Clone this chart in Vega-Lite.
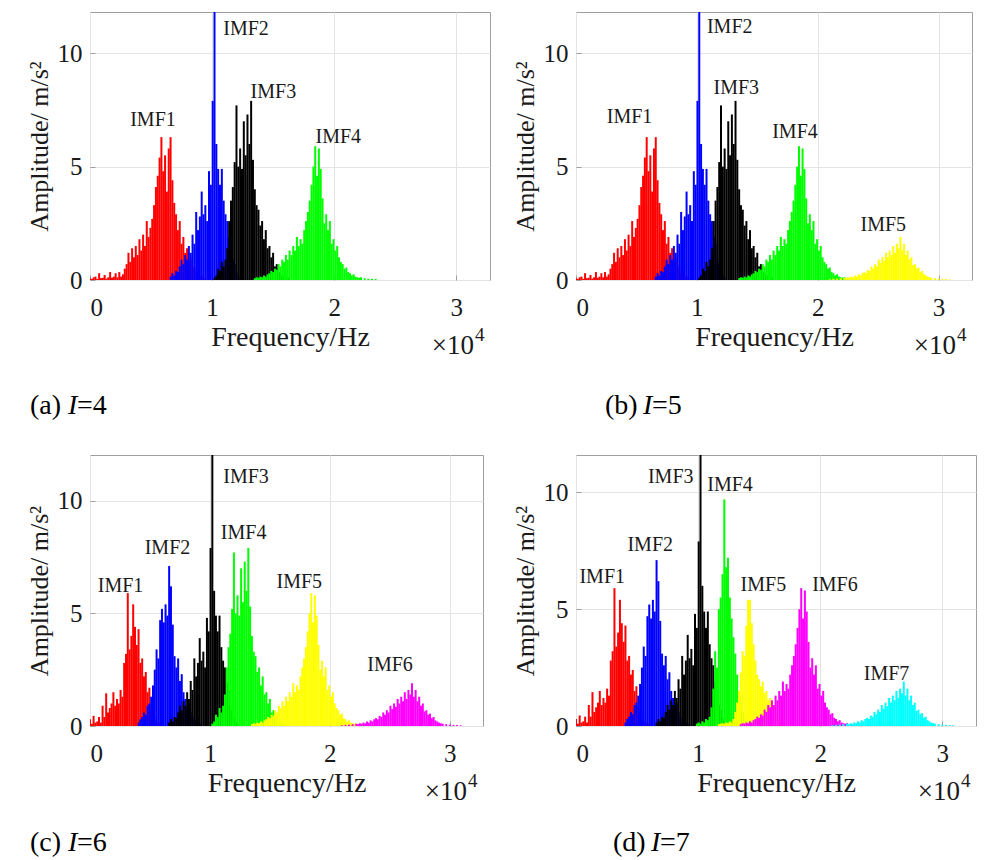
{
"$schema":"https://vega.github.io/schema/vega-lite/v6.json",
"background":"white",
"padding":{"left":25,"top":11,"right":5,"bottom":5},
"config":{
 "font":"Liberation Serif",
 "view":{"stroke":"#9e9e9e","strokeWidth":1},
 "axis":{"labelFont":"Liberation Serif","labelFontSize":25,"labelColor":"#1a1a1a","titleFont":"Liberation Serif","titleFontSize":26,"titleFontWeight":"normal","titleColor":"#1a1a1a","domain":false,"grid":true,"gridColor":"#e4e4e4","ticks":true,"tickSize":-5,"tickColor":"#9e9e9e"},
 "axisX":{"labelPadding":20,"titlePadding":3,"titleFontSize":28},
 "axisY":{"labelPadding":13,"titlePadding":5}
},
"datasets":{
"R4":[{"f":0,"a":0.08},{"f":150,"a":0.05},{"f":300,"a":0.12},{"f":450,"a":0.15},{"f":600,"a":0.05},{"f":750,"a":0.3},{"f":900,"a":0.08},{"f":1050,"a":0.1},{"f":1200,"a":0.22},{"f":1350,"a":0.06},{"f":1500,"a":0.12},{"f":1650,"a":0.35},{"f":1800,"a":0.1},{"f":1950,"a":0.15},{"f":2100,"a":0.3},{"f":2250,"a":0.12},{"f":2400,"a":0.35},{"f":2550,"a":0.15},{"f":2700,"a":0.25},{"f":2850,"a":0.5},{"f":3000,"a":0.7},{"f":3150,"a":1.2},{"f":3300,"a":0.8},{"f":3450,"a":1.4},{"f":3600,"a":1.0},{"f":3750,"a":1.5},{"f":3900,"a":1.1},{"f":4050,"a":1.8},{"f":4200,"a":1.3},{"f":4350,"a":2.0},{"f":4500,"a":1.5},{"f":4650,"a":2.6},{"f":4800,"a":1.9},{"f":4950,"a":2.3},{"f":5100,"a":2.7},{"f":5250,"a":3.3},{"f":5400,"a":4.1},{"f":5550,"a":4.6},{"f":5700,"a":5.4},{"f":5850,"a":6.3},{"f":6000,"a":4.8},{"f":6150,"a":5.5},{"f":6300,"a":3.9},{"f":6450,"a":5.8},{"f":6600,"a":6.3},{"f":6750,"a":4.4},{"f":6900,"a":3.4},{"f":7050,"a":2.9},{"f":7200,"a":2.2},{"f":7350,"a":2.6},{"f":7500,"a":1.6},{"f":7650,"a":1.9},{"f":7800,"a":1.2},{"f":7950,"a":1.4},{"f":8100,"a":0.8},{"f":8250,"a":1.0},{"f":8400,"a":0.5},{"f":8550,"a":0.6},{"f":8700,"a":0.3},{"f":8850,"a":0.35},{"f":9000,"a":0.15},{"f":9150,"a":0.2},{"f":9300,"a":0.08},{"f":9450,"a":0.05}],
"B4":[{"f":6600,"a":0.15},{"f":6750,"a":0.3},{"f":6900,"a":0.2},{"f":7050,"a":0.4},{"f":7200,"a":0.35},{"f":7350,"a":0.6},{"f":7500,"a":0.9},{"f":7650,"a":0.7},{"f":7800,"a":1.1},{"f":7950,"a":0.9},{"f":8100,"a":1.5},{"f":8250,"a":1.2},{"f":8400,"a":2.0},{"f":8550,"a":1.6},{"f":8700,"a":3.0},{"f":8850,"a":2.2},{"f":9000,"a":2.8},{"f":9150,"a":3.9},{"f":9300,"a":2.9},{"f":9450,"a":3.3},{"f":9600,"a":2.6},{"f":9750,"a":4.8},{"f":9900,"a":4.2},{"f":10050,"a":7.9},{"f":10200,"a":13},{"f":10350,"a":6.0},{"f":10500,"a":4.9},{"f":10650,"a":4.2},{"f":10800,"a":4.9},{"f":10950,"a":3.5},{"f":11100,"a":2.9},{"f":11250,"a":2.6},{"f":11400,"a":1.9},{"f":11550,"a":1.6},{"f":11700,"a":0.9},{"f":11850,"a":0.7},{"f":12000,"a":0.35},{"f":12150,"a":0.2},{"f":12300,"a":0.1}],
"K4":[{"f":10200,"a":0.1},{"f":10350,"a":0.2},{"f":10500,"a":0.5},{"f":10650,"a":0.4},{"f":10800,"a":0.8},{"f":10950,"a":0.6},{"f":11100,"a":0.9},{"f":11250,"a":1.4},{"f":11400,"a":2.6},{"f":11550,"a":3.5},{"f":11700,"a":4.1},{"f":11850,"a":5.2},{"f":12000,"a":7.7},{"f":12150,"a":5.0},{"f":12300,"a":5.8},{"f":12450,"a":4.9},{"f":12600,"a":7.0},{"f":12750,"a":5.5},{"f":12900,"a":7.3},{"f":13050,"a":6.0},{"f":13200,"a":7.9},{"f":13350,"a":5.3},{"f":13500,"a":4.0},{"f":13650,"a":3.3},{"f":13800,"a":3.1},{"f":13950,"a":2.4},{"f":14100,"a":2.6},{"f":14250,"a":1.8},{"f":14400,"a":2.2},{"f":14550,"a":1.4},{"f":14700,"a":1.5},{"f":14850,"a":1.0},{"f":15000,"a":1.2},{"f":15150,"a":0.6},{"f":15300,"a":0.7},{"f":15450,"a":0.35},{"f":15600,"a":0.3},{"f":15750,"a":0.15},{"f":15900,"a":0.2},{"f":16050,"a":0.08},{"f":16200,"a":0.12}],
"G4":[{"f":13500,"a":0.08},{"f":13650,"a":0.12},{"f":13800,"a":0.1},{"f":13950,"a":0.15},{"f":14100,"a":0.12},{"f":14250,"a":0.2},{"f":14400,"a":0.15},{"f":14550,"a":0.25},{"f":14700,"a":0.3},{"f":14850,"a":0.4},{"f":15000,"a":0.35},{"f":15150,"a":0.5},{"f":15300,"a":0.45},{"f":15450,"a":0.7},{"f":15600,"a":0.6},{"f":15750,"a":0.9},{"f":15900,"a":0.8},{"f":16050,"a":1.1},{"f":16200,"a":0.9},{"f":16350,"a":1.3},{"f":16500,"a":1.1},{"f":16650,"a":1.5},{"f":16800,"a":1.3},{"f":16950,"a":1.9},{"f":17100,"a":1.5},{"f":17250,"a":1.8},{"f":17400,"a":1.6},{"f":17550,"a":2.2},{"f":17700,"a":2.6},{"f":17850,"a":3.0},{"f":18000,"a":3.5},{"f":18150,"a":4.2},{"f":18300,"a":5.0},{"f":18450,"a":5.9},{"f":18600,"a":4.6},{"f":18750,"a":5.8},{"f":18900,"a":4.9},{"f":19050,"a":3.6},{"f":19200,"a":2.5},{"f":19350,"a":2.9},{"f":19500,"a":2.2},{"f":19650,"a":2.6},{"f":19800,"a":1.6},{"f":19950,"a":1.8},{"f":20100,"a":1.3},{"f":20250,"a":1.5},{"f":20400,"a":1.0},{"f":20550,"a":0.8},{"f":20700,"a":0.7},{"f":20850,"a":0.5},{"f":21000,"a":0.55},{"f":21150,"a":0.35},{"f":21300,"a":0.3},{"f":21450,"a":0.2},{"f":21600,"a":0.25},{"f":21750,"a":0.15},{"f":21900,"a":0.12},{"f":22050,"a":0.1},{"f":22200,"a":0.12},{"f":22500,"a":0.08},{"f":22800,"a":0.06},{"f":23100,"a":0.05},{"f":23400,"a":0.05}],
"Y5":[{"f":21000,"a":0.03},{"f":21300,"a":0.05},{"f":21600,"a":0.06},{"f":21900,"a":0.08},{"f":22200,"a":0.1},{"f":22350,"a":0.08},{"f":22500,"a":0.12},{"f":22650,"a":0.1},{"f":22800,"a":0.15},{"f":22950,"a":0.12},{"f":23100,"a":0.2},{"f":23250,"a":0.15},{"f":23400,"a":0.25},{"f":23550,"a":0.2},{"f":23700,"a":0.3},{"f":23850,"a":0.35},{"f":24000,"a":0.3},{"f":24150,"a":0.45},{"f":24300,"a":0.4},{"f":24450,"a":0.6},{"f":24600,"a":0.5},{"f":24750,"a":0.7},{"f":24900,"a":0.6},{"f":25050,"a":0.9},{"f":25200,"a":0.75},{"f":25350,"a":1.0},{"f":25500,"a":0.85},{"f":25650,"a":1.2},{"f":25800,"a":1.0},{"f":25950,"a":1.3},{"f":26100,"a":1.1},{"f":26250,"a":1.5},{"f":26400,"a":1.2},{"f":26550,"a":1.6},{"f":26700,"a":1.4},{"f":26850,"a":1.9},{"f":27000,"a":1.3},{"f":27150,"a":1.6},{"f":27300,"a":1.1},{"f":27450,"a":1.3},{"f":27600,"a":0.9},{"f":27750,"a":1.0},{"f":27900,"a":0.65},{"f":28050,"a":0.7},{"f":28200,"a":0.5},{"f":28350,"a":0.55},{"f":28500,"a":0.35},{"f":28650,"a":0.4},{"f":28800,"a":0.25},{"f":28950,"a":0.2},{"f":29100,"a":0.15},{"f":29250,"a":0.12},{"f":29400,"a":0.1},{"f":29700,"a":0.08},{"f":30000,"a":0.06},{"f":30300,"a":0.05},{"f":30600,"a":0.04},{"f":30900,"a":0.03}],
"R6":[{"f":0,"a":0.3},{"f":150,"a":0.1},{"f":300,"a":0.45},{"f":450,"a":0.15},{"f":600,"a":0.2},{"f":750,"a":0.4},{"f":900,"a":0.15},{"f":1050,"a":0.9},{"f":1200,"a":0.4},{"f":1350,"a":1.45},{"f":1500,"a":0.6},{"f":1650,"a":0.8},{"f":1800,"a":1.0},{"f":1950,"a":1.5},{"f":2100,"a":0.9},{"f":2250,"a":1.2},{"f":2400,"a":1.0},{"f":2550,"a":1.6},{"f":2700,"a":1.3},{"f":2850,"a":2.8},{"f":3000,"a":3.2},{"f":3150,"a":5.9},{"f":3300,"a":3.4},{"f":3450,"a":4.0},{"f":3600,"a":5.4},{"f":3750,"a":4.4},{"f":3900,"a":3.6},{"f":4050,"a":4.3},{"f":4200,"a":2.8},{"f":4350,"a":3.0},{"f":4500,"a":2.2},{"f":4650,"a":2.4},{"f":4800,"a":1.5},{"f":4950,"a":1.7},{"f":5100,"a":0.8},{"f":5250,"a":0.6},{"f":5400,"a":0.3},{"f":5550,"a":0.2},{"f":5700,"a":0.15},{"f":5850,"a":0.1},{"f":6000,"a":0.08}],
"B6":[{"f":4050,"a":0.15},{"f":4200,"a":0.3},{"f":4350,"a":0.4},{"f":4500,"a":0.6},{"f":4650,"a":0.5},{"f":4800,"a":0.9},{"f":4950,"a":1.0},{"f":5100,"a":1.3},{"f":5250,"a":1.8},{"f":5400,"a":2.5},{"f":5550,"a":3.4},{"f":5700,"a":3.0},{"f":5850,"a":4.7},{"f":6000,"a":5.2},{"f":6150,"a":4.6},{"f":6300,"a":5.4},{"f":6450,"a":4.9},{"f":6600,"a":7.1},{"f":6750,"a":6.2},{"f":6900,"a":4.5},{"f":7050,"a":3.1},{"f":7200,"a":2.6},{"f":7350,"a":3.0},{"f":7500,"a":2.0},{"f":7650,"a":2.3},{"f":7800,"a":1.5},{"f":7950,"a":1.2},{"f":8100,"a":0.9},{"f":8250,"a":1.0},{"f":8400,"a":0.6},{"f":8550,"a":0.4},{"f":8700,"a":0.3},{"f":8850,"a":0.2},{"f":9000,"a":0.15},{"f":9150,"a":0.1}],
"G7":[{"f":9900,"a":0.1},{"f":10050,"a":0.15},{"f":10200,"a":0.1},{"f":10350,"a":0.2},{"f":10500,"a":0.15},{"f":10650,"a":0.3},{"f":10800,"a":0.25},{"f":10950,"a":0.4},{"f":11100,"a":0.8},{"f":11250,"a":1.6},{"f":11400,"a":3.2},{"f":11550,"a":2.5},{"f":11700,"a":5.0},{"f":11850,"a":5.5},{"f":12000,"a":6.5},{"f":12150,"a":9.7},{"f":12300,"a":6.8},{"f":12450,"a":7.2},{"f":12600,"a":5.5},{"f":12750,"a":4.6},{"f":12900,"a":3.8},{"f":13050,"a":3.1},{"f":13200,"a":2.2},{"f":13350,"a":1.5},{"f":13500,"a":0.9},{"f":13650,"a":0.6},{"f":13800,"a":0.35},{"f":13950,"a":0.25},{"f":14100,"a":0.15}],
"Y7":[{"f":11700,"a":0.08},{"f":11850,"a":0.1},{"f":12000,"a":0.12},{"f":12150,"a":0.1},{"f":12300,"a":0.15},{"f":12450,"a":0.12},{"f":12600,"a":0.2},{"f":12750,"a":0.15},{"f":12900,"a":0.3},{"f":13050,"a":0.6},{"f":13200,"a":1.0},{"f":13350,"a":1.5},{"f":13500,"a":2.3},{"f":13650,"a":3.2},{"f":13800,"a":3.0},{"f":13950,"a":4.3},{"f":14100,"a":5.4},{"f":14250,"a":5.4},{"f":14400,"a":4.4},{"f":14550,"a":3.5},{"f":14700,"a":2.8},{"f":14850,"a":2.2},{"f":15000,"a":2.0},{"f":15150,"a":1.7},{"f":15300,"a":1.9},{"f":15450,"a":1.4},{"f":15600,"a":1.5},{"f":15750,"a":1.1},{"f":15900,"a":1.2},{"f":16050,"a":0.9},{"f":16200,"a":0.9},{"f":16350,"a":0.6},{"f":16500,"a":0.5},{"f":16650,"a":0.35},{"f":16800,"a":0.25},{"f":16950,"a":0.15},{"f":17100,"a":0.1}],
"labA":[{"t":"IMF1","f":5160,"a":6.8},{"t":"IMF2","f":12780,"a":10.8},{"t":"IMF3","f":15020,"a":8.04},{"t":"IMF4","f":20340,"a":6.06}],
"labB":[{"t":"IMF1","f":4430,"a":6.94},{"t":"IMF2","f":12720,"a":10.91},{"t":"IMF3","f":13260,"a":8.22},{"t":"IMF4","f":18120,"a":6.28},{"t":"IMF5","f":25430,"a":2.16}],
"labC":[{"t":"IMF1","f":2550,"a":5.96},{"t":"IMF2","f":6460,"a":7.63},{"t":"IMF3","f":13010,"a":10.77},{"t":"IMF4","f":12810,"a":8.29},{"t":"IMF5","f":17450,"a":6.11},{"t":"IMF6","f":25020,"a":2.45}],
"labD":[{"t":"IMF1","f":2150,"a":6.1},{"t":"IMF2","f":6080,"a":7.5},{"t":"IMF3","f":7760,"a":10.42},{"t":"IMF4","f":12620,"a":10.04},{"t":"IMF5","f":15350,"a":5.76},{"t":"IMF6","f":21210,"a":5.76},{"t":"IMF7","f":25440,"a":1.97}],
"capA":[{"p":"(a)","i":"I","n":"=4"}],
"capB":[{"p":"(b)","i":"I","n":"=5"}],
"capC":[{"p":"(c)","i":"I","n":"=6"}],
"capD":[{"p":"(d)","i":"I","n":"=7"}]
},
"columns":2,
"spacing":{"row":33,"column":20},
"concat":[
{"width":400,"height":268,
 "layer":[
  {"data":{"name":"R4"},"mark":{"type":"rule","color":"#ff0000","strokeWidth":2,"clip":true},"encoding":{"x":{"field":"f","type":"quantitative","scale":{"domain":[0,32768],"nice":false,"zero":false},"axis":{"values":[0,10000,20000,30000],"labelExpr":"datum.value / 10000","title":"Frequency/Hz"}},"y":{"field":"a","type":"quantitative","scale":{"domain":[0,11.82],"nice":false},"axis":{"values":[0,5,10],"title":"Amplitude/ m/s²"}},"y2":{"datum":0}}},
  {"data":{"name":"B4"},"mark":{"type":"rule","color":"#0000ff","strokeWidth":2,"clip":true},"encoding":{"x":{"field":"f","type":"quantitative","scale":{"domain":[0,32768],"nice":false,"zero":false}},"y":{"field":"a","type":"quantitative","scale":{"domain":[0,11.82],"nice":false}},"y2":{"datum":0}}},
  {"data":{"name":"K4"},"mark":{"type":"rule","color":"#000000","strokeWidth":2,"clip":true},"encoding":{"x":{"field":"f","type":"quantitative","scale":{"domain":[0,32768],"nice":false,"zero":false}},"y":{"field":"a","type":"quantitative","scale":{"domain":[0,11.82],"nice":false}},"y2":{"datum":0}}},
  {"data":{"name":"G4"},"mark":{"type":"rule","color":"#00ff00","strokeWidth":2,"clip":true},"encoding":{"x":{"field":"f","type":"quantitative","scale":{"domain":[0,32768],"nice":false,"zero":false}},"y":{"field":"a","type":"quantitative","scale":{"domain":[0,11.82],"nice":false}},"y2":{"datum":0}}},
  {"data":{"name":"labA"},"mark":{"type":"text","font":"Liberation Serif","fontSize":20,"color":"#1a1a1a","align":"center","baseline":"alphabetic"},"encoding":{"x":{"field":"f","type":"quantitative","scale":{"domain":[0,32768],"nice":false,"zero":false}},"y":{"field":"a","type":"quantitative","scale":{"domain":[0,11.82],"nice":false}},"text":{"field":"t"}}},
  {"data":{"name":"capA"},"mark":{"type":"text","font":"Liberation Serif","fontSize":28,"color":"#000000","align":"left","baseline":"alphabetic"},"encoding":{"x":{"datum":-4915,"type":"quantitative","scale":{"domain":[0,32768],"nice":false,"zero":false}},"y":{"datum":-5.91,"type":"quantitative","scale":{"domain":[0,11.82],"nice":false}},"text":{"field":"p"}}},
  {"data":{"name":"capA"},"mark":{"type":"text","font":"Liberation Serif","fontSize":28,"fontStyle":"italic","color":"#000000","align":"left","baseline":"alphabetic","dx":38},"encoding":{"x":{"datum":-4915,"type":"quantitative","scale":{"domain":[0,32768],"nice":false,"zero":false}},"y":{"datum":-5.91,"type":"quantitative","scale":{"domain":[0,11.82],"nice":false}},"text":{"field":"i"}}},
  {"data":{"name":"capA"},"mark":{"type":"text","font":"Liberation Serif","fontSize":28,"color":"#000000","align":"left","baseline":"alphabetic","dx":47},"encoding":{"x":{"datum":-4915,"type":"quantitative","scale":{"domain":[0,32768],"nice":false,"zero":false}},"y":{"datum":-5.91,"type":"quantitative","scale":{"domain":[0,11.82],"nice":false}},"text":{"field":"n"}}},
  {"data":{"name":"capA"},"mark":{"type":"text","font":"Liberation Serif","fontSize":27,"color":"#1a1a1a","align":"right","baseline":"alphabetic","dx":-16,"text":"×10"},"encoding":{"x":{"datum":32768,"type":"quantitative","scale":{"domain":[0,32768],"nice":false,"zero":false}},"y":{"datum":-3.28,"type":"quantitative","scale":{"domain":[0,11.82],"nice":false}}}},
  {"data":{"name":"capA"},"mark":{"type":"text","font":"Liberation Serif","fontSize":19,"color":"#1a1a1a","align":"left","baseline":"alphabetic","dx":-15,"dy":-13,"text":"4"},"encoding":{"x":{"datum":32768,"type":"quantitative","scale":{"domain":[0,32768],"nice":false,"zero":false}},"y":{"datum":-3.28,"type":"quantitative","scale":{"domain":[0,11.82],"nice":false}}}}
 ]},
{"width":396,"height":268,
 "layer":[
  {"data":{"name":"R4"},"mark":{"type":"rule","color":"#ff0000","strokeWidth":2,"clip":true},"encoding":{"x":{"field":"f","type":"quantitative","scale":{"domain":[0,32768],"nice":false,"zero":false},"axis":{"values":[0,10000,20000,30000],"labelExpr":"datum.value / 10000","title":"Frequency/Hz"}},"y":{"field":"a","type":"quantitative","scale":{"domain":[0,11.82],"nice":false},"axis":{"values":[0,5,10],"title":"Amplitude/ m/s²"}},"y2":{"datum":0}}},
  {"data":{"name":"B4"},"mark":{"type":"rule","color":"#0000ff","strokeWidth":2,"clip":true},"encoding":{"x":{"field":"f","type":"quantitative","scale":{"domain":[0,32768],"nice":false,"zero":false}},"y":{"field":"a","type":"quantitative","scale":{"domain":[0,11.82],"nice":false}},"y2":{"datum":0}}},
  {"data":{"name":"K4"},"mark":{"type":"rule","color":"#000000","strokeWidth":2,"clip":true},"encoding":{"x":{"field":"f","type":"quantitative","scale":{"domain":[0,32768],"nice":false,"zero":false}},"y":{"field":"a","type":"quantitative","scale":{"domain":[0,11.82],"nice":false}},"y2":{"datum":0}}},
  {"data":{"name":"G4"},"mark":{"type":"rule","color":"#00ff00","strokeWidth":2,"clip":true},"encoding":{"x":{"field":"f","type":"quantitative","scale":{"domain":[0,32768],"nice":false,"zero":false}},"y":{"field":"a","type":"quantitative","scale":{"domain":[0,11.82],"nice":false}},"y2":{"datum":0}}},
  {"data":{"name":"Y5"},"mark":{"type":"rule","color":"#ffff00","strokeWidth":2,"clip":true},"encoding":{"x":{"field":"f","type":"quantitative","scale":{"domain":[0,32768],"nice":false,"zero":false}},"y":{"field":"a","type":"quantitative","scale":{"domain":[0,11.82],"nice":false}},"y2":{"datum":0}}},
  {"data":{"name":"labB"},"mark":{"type":"text","font":"Liberation Serif","fontSize":20,"color":"#1a1a1a","align":"center","baseline":"alphabetic"},"encoding":{"x":{"field":"f","type":"quantitative","scale":{"domain":[0,32768],"nice":false,"zero":false}},"y":{"field":"a","type":"quantitative","scale":{"domain":[0,11.82],"nice":false}},"text":{"field":"t"}}},
  {"data":{"name":"capB"},"mark":{"type":"text","font":"Liberation Serif","fontSize":28,"color":"#000000","align":"left","baseline":"alphabetic"},"encoding":{"x":{"datum":2400,"type":"quantitative","scale":{"domain":[0,32768],"nice":false,"zero":false}},"y":{"datum":-5.91,"type":"quantitative","scale":{"domain":[0,11.82],"nice":false}},"text":{"field":"p"}}},
  {"data":{"name":"capB"},"mark":{"type":"text","font":"Liberation Serif","fontSize":28,"fontStyle":"italic","color":"#000000","align":"left","baseline":"alphabetic","dx":38},"encoding":{"x":{"datum":2400,"type":"quantitative","scale":{"domain":[0,32768],"nice":false,"zero":false}},"y":{"datum":-5.91,"type":"quantitative","scale":{"domain":[0,11.82],"nice":false}},"text":{"field":"i"}}},
  {"data":{"name":"capB"},"mark":{"type":"text","font":"Liberation Serif","fontSize":28,"color":"#000000","align":"left","baseline":"alphabetic","dx":47},"encoding":{"x":{"datum":2400,"type":"quantitative","scale":{"domain":[0,32768],"nice":false,"zero":false}},"y":{"datum":-5.91,"type":"quantitative","scale":{"domain":[0,11.82],"nice":false}},"text":{"field":"n"}}},
  {"data":{"name":"capB"},"mark":{"type":"text","font":"Liberation Serif","fontSize":27,"color":"#1a1a1a","align":"right","baseline":"alphabetic","dx":-16,"text":"×10"},"encoding":{"x":{"datum":32768,"type":"quantitative","scale":{"domain":[0,32768],"nice":false,"zero":false}},"y":{"datum":-3.28,"type":"quantitative","scale":{"domain":[0,11.82],"nice":false}}}},
  {"data":{"name":"capB"},"mark":{"type":"text","font":"Liberation Serif","fontSize":19,"color":"#1a1a1a","align":"left","baseline":"alphabetic","dx":-15,"dy":-13,"text":"4"},"encoding":{"x":{"datum":32768,"type":"quantitative","scale":{"domain":[0,32768],"nice":false,"zero":false}},"y":{"datum":-3.28,"type":"quantitative","scale":{"domain":[0,11.82],"nice":false}}}}
 ]},
{"width":393,"height":271,
 "layer":[
  {"data":{"name":"R6"},"mark":{"type":"rule","color":"#ff0000","strokeWidth":2,"clip":true},"encoding":{"x":{"field":"f","type":"quantitative","scale":{"domain":[0,32768],"nice":false,"zero":false},"axis":{"values":[0,10000,20000,30000],"labelExpr":"datum.value / 10000","title":"Frequency/Hz"}},"y":{"field":"a","type":"quantitative","scale":{"domain":[0,12.03],"nice":false},"axis":{"values":[0,5,10],"title":"Amplitude/ m/s²"}},"y2":{"datum":0}}},
  {"data":{"name":"B6"},"mark":{"type":"rule","color":"#0000ff","strokeWidth":2,"clip":true},"encoding":{"x":{"field":"f","type":"quantitative","scale":{"domain":[0,32768],"nice":false,"zero":false}},"y":{"field":"a","type":"quantitative","scale":{"domain":[0,12.03],"nice":false}},"y2":{"datum":0}}},
  {"data":{"name":"B4"},"mark":{"type":"rule","color":"#000000","strokeWidth":2,"clip":true},"encoding":{"x":{"field":"f","type":"quantitative","scale":{"domain":[0,32768],"nice":false,"zero":false}},"y":{"field":"a","type":"quantitative","scale":{"domain":[0,12.03],"nice":false}},"y2":{"datum":0}}},
  {"data":{"name":"K4"},"mark":{"type":"rule","color":"#00ff00","strokeWidth":2,"clip":true},"encoding":{"x":{"field":"f","type":"quantitative","scale":{"domain":[0,32768],"nice":false,"zero":false}},"y":{"field":"a","type":"quantitative","scale":{"domain":[0,12.03],"nice":false}},"y2":{"datum":0}}},
  {"data":{"name":"G4"},"mark":{"type":"rule","color":"#ffff00","strokeWidth":2,"clip":true},"encoding":{"x":{"field":"f","type":"quantitative","scale":{"domain":[0,32768],"nice":false,"zero":false}},"y":{"field":"a","type":"quantitative","scale":{"domain":[0,12.03],"nice":false}},"y2":{"datum":0}}},
  {"data":{"name":"Y5"},"mark":{"type":"rule","color":"#ff00ff","strokeWidth":2,"clip":true},"encoding":{"x":{"field":"f","type":"quantitative","scale":{"domain":[0,32768],"nice":false,"zero":false}},"y":{"field":"a","type":"quantitative","scale":{"domain":[0,12.03],"nice":false}},"y2":{"datum":0}}},
  {"data":{"name":"labC"},"mark":{"type":"text","font":"Liberation Serif","fontSize":20,"color":"#1a1a1a","align":"center","baseline":"alphabetic"},"encoding":{"x":{"field":"f","type":"quantitative","scale":{"domain":[0,32768],"nice":false,"zero":false}},"y":{"field":"a","type":"quantitative","scale":{"domain":[0,12.03],"nice":false}},"text":{"field":"t"}}},
  {"data":{"name":"capC"},"mark":{"type":"text","font":"Liberation Serif","fontSize":28,"color":"#000000","align":"left","baseline":"alphabetic"},"encoding":{"x":{"datum":-5003,"type":"quantitative","scale":{"domain":[0,32768],"nice":false,"zero":false}},"y":{"datum":-5.55,"type":"quantitative","scale":{"domain":[0,12.03],"nice":false}},"text":{"field":"p"}}},
  {"data":{"name":"capC"},"mark":{"type":"text","font":"Liberation Serif","fontSize":28,"fontStyle":"italic","color":"#000000","align":"left","baseline":"alphabetic","dx":38},"encoding":{"x":{"datum":-5003,"type":"quantitative","scale":{"domain":[0,32768],"nice":false,"zero":false}},"y":{"datum":-5.55,"type":"quantitative","scale":{"domain":[0,12.03],"nice":false}},"text":{"field":"i"}}},
  {"data":{"name":"capC"},"mark":{"type":"text","font":"Liberation Serif","fontSize":28,"color":"#000000","align":"left","baseline":"alphabetic","dx":47},"encoding":{"x":{"datum":-5003,"type":"quantitative","scale":{"domain":[0,32768],"nice":false,"zero":false}},"y":{"datum":-5.55,"type":"quantitative","scale":{"domain":[0,12.03],"nice":false}},"text":{"field":"n"}}},
  {"data":{"name":"capC"},"mark":{"type":"text","font":"Liberation Serif","fontSize":27,"color":"#1a1a1a","align":"right","baseline":"alphabetic","dx":-16,"text":"×10"},"encoding":{"x":{"datum":32768,"type":"quantitative","scale":{"domain":[0,32768],"nice":false,"zero":false}},"y":{"datum":-3.28,"type":"quantitative","scale":{"domain":[0,12.03],"nice":false}}}},
  {"data":{"name":"capC"},"mark":{"type":"text","font":"Liberation Serif","fontSize":19,"color":"#1a1a1a","align":"left","baseline":"alphabetic","dx":-15,"dy":-13,"text":"4"},"encoding":{"x":{"datum":32768,"type":"quantitative","scale":{"domain":[0,32768],"nice":false,"zero":false}},"y":{"datum":-3.28,"type":"quantitative","scale":{"domain":[0,12.03],"nice":false}}}}
 ]},
{"width":400,"height":271,
 "layer":[
  {"data":{"name":"R6"},"mark":{"type":"rule","color":"#ff0000","strokeWidth":2,"clip":true},"encoding":{"x":{"field":"f","type":"quantitative","scale":{"domain":[0,32768],"nice":false,"zero":false},"axis":{"values":[0,10000,20000,30000],"labelExpr":"datum.value / 10000","title":"Frequency/Hz"}},"y":{"field":"a","type":"quantitative","scale":{"domain":[0,11.6],"nice":false},"axis":{"values":[0,5,10],"title":"Amplitude/ m/s²"}},"y2":{"datum":0}}},
  {"data":{"name":"B6"},"mark":{"type":"rule","color":"#0000ff","strokeWidth":2,"clip":true},"encoding":{"x":{"field":"f","type":"quantitative","scale":{"domain":[0,32768],"nice":false,"zero":false}},"y":{"field":"a","type":"quantitative","scale":{"domain":[0,11.6],"nice":false}},"y2":{"datum":0}}},
  {"data":{"name":"B4"},"mark":{"type":"rule","color":"#000000","strokeWidth":2,"clip":true},"encoding":{"x":{"field":"f","type":"quantitative","scale":{"domain":[0,32768],"nice":false,"zero":false}},"y":{"field":"a","type":"quantitative","scale":{"domain":[0,11.6],"nice":false}},"y2":{"datum":0}}},
  {"data":{"name":"G7"},"mark":{"type":"rule","color":"#00ff00","strokeWidth":2,"clip":true},"encoding":{"x":{"field":"f","type":"quantitative","scale":{"domain":[0,32768],"nice":false,"zero":false}},"y":{"field":"a","type":"quantitative","scale":{"domain":[0,11.6],"nice":false}},"y2":{"datum":0}}},
  {"data":{"name":"Y7"},"mark":{"type":"rule","color":"#ffff00","strokeWidth":2,"clip":true},"encoding":{"x":{"field":"f","type":"quantitative","scale":{"domain":[0,32768],"nice":false,"zero":false}},"y":{"field":"a","type":"quantitative","scale":{"domain":[0,11.6],"nice":false}},"y2":{"datum":0}}},
  {"data":{"name":"G4"},"mark":{"type":"rule","color":"#ff00ff","strokeWidth":2,"clip":true},"encoding":{"x":{"field":"f","type":"quantitative","scale":{"domain":[0,32768],"nice":false,"zero":false}},"y":{"field":"a","type":"quantitative","scale":{"domain":[0,11.6],"nice":false}},"y2":{"datum":0}}},
  {"data":{"name":"Y5"},"mark":{"type":"rule","color":"#00ffff","strokeWidth":2,"clip":true},"encoding":{"x":{"field":"f","type":"quantitative","scale":{"domain":[0,32768],"nice":false,"zero":false}},"y":{"field":"a","type":"quantitative","scale":{"domain":[0,11.6],"nice":false}},"y2":{"datum":0}}},
  {"data":{"name":"labD"},"mark":{"type":"text","font":"Liberation Serif","fontSize":20,"color":"#1a1a1a","align":"center","baseline":"alphabetic"},"encoding":{"x":{"field":"f","type":"quantitative","scale":{"domain":[0,32768],"nice":false,"zero":false}},"y":{"field":"a","type":"quantitative","scale":{"domain":[0,11.6],"nice":false}},"text":{"field":"t"}}},
  {"data":{"name":"capD"},"mark":{"type":"text","font":"Liberation Serif","fontSize":28,"color":"#000000","align":"left","baseline":"alphabetic"},"encoding":{"x":{"datum":3031,"type":"quantitative","scale":{"domain":[0,32768],"nice":false,"zero":false}},"y":{"datum":-5.35,"type":"quantitative","scale":{"domain":[0,11.6],"nice":false}},"text":{"field":"p"}}},
  {"data":{"name":"capD"},"mark":{"type":"text","font":"Liberation Serif","fontSize":28,"fontStyle":"italic","color":"#000000","align":"left","baseline":"alphabetic","dx":38},"encoding":{"x":{"datum":3031,"type":"quantitative","scale":{"domain":[0,32768],"nice":false,"zero":false}},"y":{"datum":-5.35,"type":"quantitative","scale":{"domain":[0,11.6],"nice":false}},"text":{"field":"i"}}},
  {"data":{"name":"capD"},"mark":{"type":"text","font":"Liberation Serif","fontSize":28,"color":"#000000","align":"left","baseline":"alphabetic","dx":47},"encoding":{"x":{"datum":3031,"type":"quantitative","scale":{"domain":[0,32768],"nice":false,"zero":false}},"y":{"datum":-5.35,"type":"quantitative","scale":{"domain":[0,11.6],"nice":false}},"text":{"field":"n"}}},
  {"data":{"name":"capD"},"mark":{"type":"text","font":"Liberation Serif","fontSize":27,"color":"#1a1a1a","align":"right","baseline":"alphabetic","dx":-16,"text":"×10"},"encoding":{"x":{"datum":32768,"type":"quantitative","scale":{"domain":[0,32768],"nice":false,"zero":false}},"y":{"datum":-3.17,"type":"quantitative","scale":{"domain":[0,11.6],"nice":false}}}},
  {"data":{"name":"capD"},"mark":{"type":"text","font":"Liberation Serif","fontSize":19,"color":"#1a1a1a","align":"left","baseline":"alphabetic","dx":-15,"dy":-13,"text":"4"},"encoding":{"x":{"datum":32768,"type":"quantitative","scale":{"domain":[0,32768],"nice":false,"zero":false}},"y":{"datum":-3.17,"type":"quantitative","scale":{"domain":[0,11.6],"nice":false}}}}
 ]}
]
}
